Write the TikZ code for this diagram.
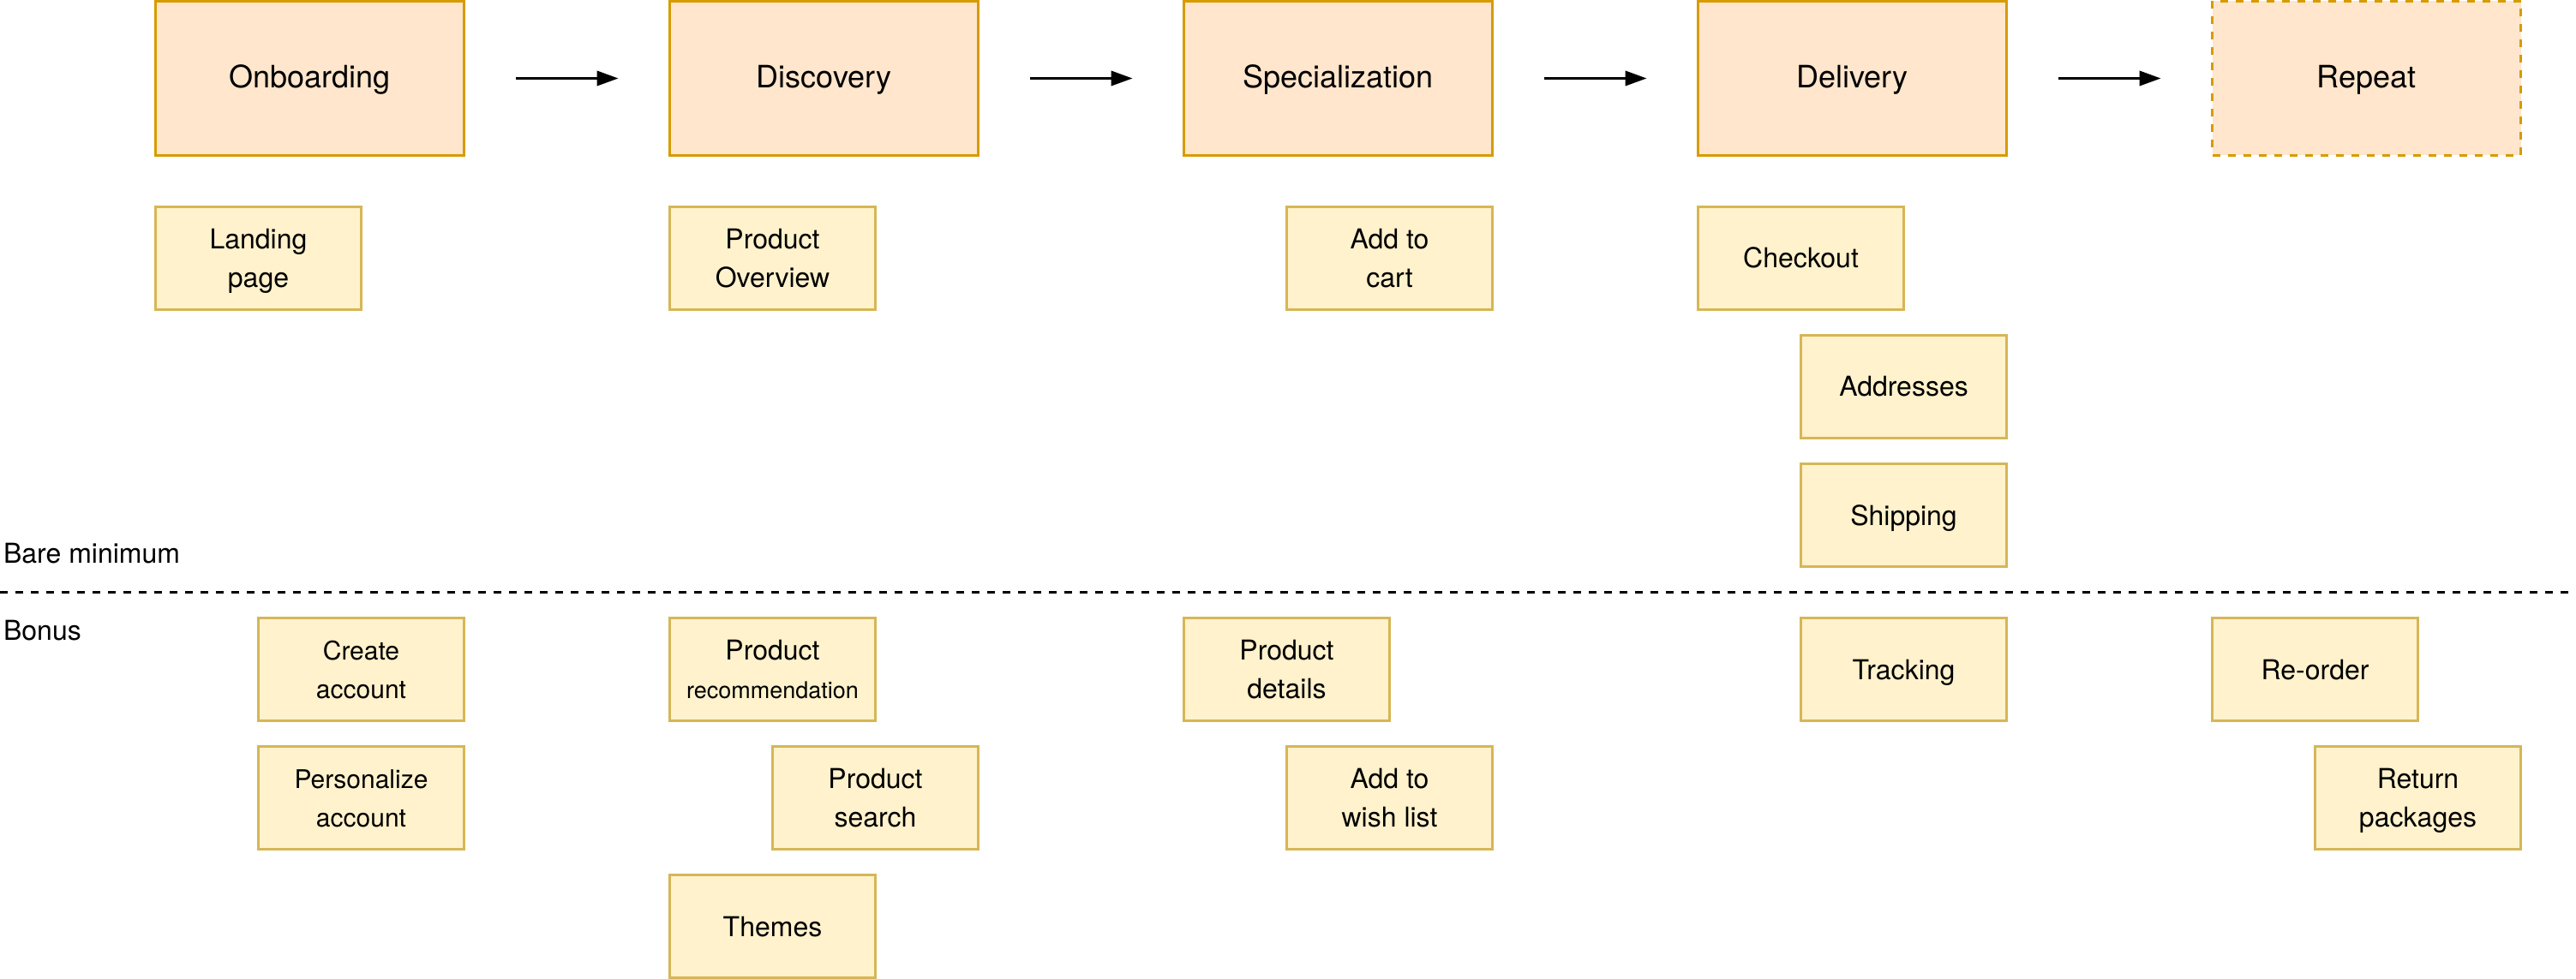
\documentclass[tikz,border=0pt]{standalone}
\usepackage{fontspec}
\setmainfont{TeX Gyre Heros}
\usetikzlibrary{arrows.meta}
\definecolor{bigfill}{HTML}{FFE6CC}
\definecolor{bigline}{HTML}{D79B00}
\definecolor{cardfill}{HTML}{FFF2CC}
\definecolor{cardline}{HTML}{D6B656}
\tikzset{
  big/.style={draw=bigline, fill=bigfill, line width=1.1pt, minimum width=180pt, minimum height=90pt,
    inner sep=0pt, outer sep=0pt, font=\fontsize{18}{21.6}\selectfont, text height=10.8pt, text depth=0pt},
  bigdashed/.style={big, line width=1.5pt, dash pattern=on 4.5pt off 4.5pt},
  card/.style={draw=cardline, fill=cardfill, line width=1.1pt, minimum width=120pt, minimum height=60pt,
    inner sep=0pt, outer sep=0pt, font=\fontsize{16}{22.5}\selectfont, align=center,
    text height=11.5pt, text depth=0pt},
  cardtwo/.style={card, text height=34pt, text depth=0pt},
  cardsmall/.style={cardtwo, font=\fontsize{15}{22.5}\selectfont},
  flow/.style={line width=1.3pt, -{Triangle[length=12.5pt,width=8.7pt]}, shorten <=30pt, shorten >=30pt},
  divider/.style={line width=1.5pt, dash pattern=on 4.5pt off 4.5pt},
  lane/.style={inner sep=0pt, outer sep=0pt, anchor=base west, font=\fontsize{16}{19.2}\selectfont},
}
\begin{document}
\begin{tikzpicture}[x=1pt, y=-1pt]
\useasboundingbox (-0.75,-0.75) rectangle (1502.25,570.75);

% stages
\node[big] (onb) at (180,45) {Onboarding};
\node[big] (dis) at (480,45) {Discovery};
\node[big] (spe) at (780,45) {Specialization};
\node[big] (del) at (1080,45) {Delivery};
\node[bigdashed] (rep) at (1380,45) {Repeat};

\draw[flow] (onb) -- (dis);
\draw[flow] (dis) -- (spe);
\draw[flow] (spe) -- (del);
\draw[flow] (del) -- (rep);

% bare minimum
\node[cardtwo] (landing) at (150,150) {Landing\\page};
\node[cardtwo] (povw) at (450,150) {Product\\Overview};
\node[cardtwo] (cart) at (810,150) {Add to\\cart};
\node[card] (checkout) at (1050,150) {Checkout};
\node[card] (addr) at (1110,225) {Addresses};
\node[card] (ship) at (1110,300) {Shipping};

\node[lane] (bare) at (1.3,327.8) {Bare minimum};
\coordinate (sepL) at (-0.75,345);
\coordinate (sepR) at (1502.25,345);
\draw[divider] (sepL) -- (sepR);
\node[lane] (bonus) at (1.3,372.8) {Bonus};

% bonus
\node[cardsmall] (create) at (210,390) {Create\\account};
\node[cardsmall] (perso) at (210,465) {Personalize\\account};
\node[cardtwo] (prec) at (450,390) {Product\\{\fontsize{13.5}{22.5}\selectfont recommendation}};
\node[cardtwo] (psearch) at (510,465) {Product\\search};
\node[card] (themes) at (450,540) {Themes};
\node[cardtwo] (pdet) at (750,390) {Product\\details};
\node[cardtwo] (wish) at (810,465) {Add to\\wish list};
\node[card] (track) at (1110,390) {Tracking};
\node[card] (reorder) at (1350,390) {Re-order};
\node[cardtwo] (ret) at (1410,465) {Return\\packages};
\end{tikzpicture}
\end{document}
